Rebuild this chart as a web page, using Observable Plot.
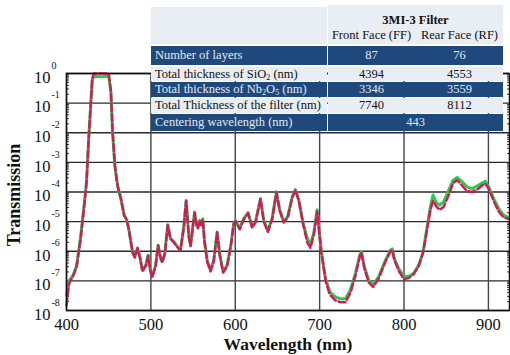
<!DOCTYPE html>
<html><head><meta charset="utf-8">
<script src="https://cdn.jsdelivr.net/npm/d3@7"></script>
<script src="https://cdn.jsdelivr.net/npm/@observablehq/plot@0.6"></script>
<style>
body{margin:0;background:#fff;}
#wrap{position:relative;width:510px;height:355px;font-family:"Liberation Serif","Times New Roman",serif;}
#wrap svg{position:absolute;left:0;top:0;}
.cell{position:absolute;box-sizing:border-box;font-size:12.5px;white-space:nowrap;}
.dark{background:#1f497d;color:#e4e8f0;}
.light{background:#e9edf4;color:#111;}
.txt{position:absolute;transform:translate(-50%,-50%);white-space:nowrap;}
sub{font-size:8px;vertical-align:-2px;line-height:0;}
</style></head><body><div id="wrap"></div>
<script>
// ---- data ----
const wavelength = [
  400, 403, 408, 412, 416.6, 420.5, 423.7, 426.5,
  428.5, 430.5, 432.5, 441, 450, 452.6, 454.6, 457.3,
  460.5, 464.5, 468.4, 471.6, 474.4, 478.3, 481, 484.2,
  487, 490, 494, 496.8, 499.2, 501.4, 505.5, 508.6,
  511.4, 513.4, 516.5, 520, 523.2, 527.2, 531.2, 535,
  539, 541.8, 545, 547, 550.2, 551.8, 554.2, 555.7,
  558, 560, 561.5, 563.5, 566.7, 570.6, 574.5, 578.5,
  581.6, 585.6, 590.4, 595, 598.2, 600.2, 605.3, 610,
  615.2, 620, 624, 629.9, 633.8, 638.6, 643.7, 648.8,
  652.7, 657.5, 662.2, 667.5, 671.3, 675.3, 680.5, 685.3,
  689.1, 693, 697, 699, 701.8, 707, 712, 718.5,
  723.6, 730.6, 736.5, 742.4, 747.5, 749.5, 753, 758.2,
  763.4, 770, 778, 784, 786, 788.6, 793.7, 799.7,
  805.6, 811.5, 817.4, 822.6, 827.3, 831.3, 834.4, 838.4,
  842.3, 847, 853, 858.2, 862.9, 868.8, 874.7, 880.6,
  886.5, 892.5, 896.4, 900.3, 906.2, 912.2, 918, 925
];
// Front face (green, solid)
const frontFace = [
  3.2e-8, 1e-7, 1.6e-7, 3.2e-7, 2.8e-6, 2.8e-5, 2.2e-4, 8.3e-3,
  6.8e-2, 0.6, 0.8, 0.78, 0.8, 0.24, 1.07e-2, 7.9e-4,
  1.7e-4, 6e-5, 1.66e-5, 1.12e-5, 4.5e-6, 9.5e-7, 6.5e-7, 1.3e-6,
  6.5e-7, 2.3e-7, 3.4e-7, 7.4e-7, 2.5e-7, 1.4e-7, 3.2e-7, 1.6e-6,
  6.3e-7, 4.4e-7, 8.5e-7, 7.9e-6, 2.75e-6, 2.1e-6, 1.45e-6, 1.1e-6,
  6.6e-6, 5.2e-5, 3.2e-6, 1.6e-6, 8.9e-6, 2.1e-5, 7.9e-6, 6.3e-6,
  1.1e-5, 7.9e-6, 1.26e-5, 2.3e-6, 5e-7, 2.3e-7, 5e-7, 4.5e-6,
  7.9e-7, 2.1e-7, 3.4e-7, 1.8e-6, 8.7e-6, 1.1e-5, 5.9e-6, 1.26e-5,
  2e-5, 6.8e-6, 1e-5, 6e-5, 1.1e-5, 4.9e-6, 1.3e-5, 1.02e-4,
  2.5e-5, 1e-5, 1.5e-5, 6.9e-5, 1.2e-4, 5.4e-5, 8.9e-6, 2.7e-6,
  1.8e-6, 4e-6, 2.5e-5, 6.8e-6, 1.1e-6, 1.2e-7, 4.3e-8, 2.9e-8,
  2.5e-8, 2.5e-8, 5e-8, 1.8e-7, 7.4e-7, 9.5e-7, 3e-7, 1.05e-7,
  7.2e-8, 1.4e-7, 5e-7, 1.1e-6, 1.2e-6, 5.6e-7, 2.6e-7, 1.45e-7,
  1.4e-7, 1.8e-7, 3.4e-7, 9.5e-7, 6.6e-6, 3.2e-5, 7.9e-5, 4.3e-5,
  3.6e-5, 4.7e-5, 1.15e-4, 2.5e-4, 3.1e-4, 2.2e-4, 1.5e-4, 1.3e-4,
  1.6e-4, 2e-4, 2.3e-4, 1.5e-4, 6e-5, 2.75e-5, 1.66e-5, 1.3e-5
];
// Rear face (red, dashed)
const rearFace = [
  1.5e-8, 8e-8, 1.5e-7, 3e-7, 2.5e-6, 2.5e-5, 2e-4, 8e-3,
  7e-2, 0.7, 1.0, 1.0, 1.0, 0.26, 1.1e-2, 7.9e-4,
  1.6e-4, 5.8e-5, 1.6e-5, 1.1e-5, 4.3e-6, 9e-7, 6.2e-7, 1.25e-6,
  6.2e-7, 2.1e-7, 3.2e-7, 7e-7, 2.3e-7, 1.3e-7, 3e-7, 1.55e-6,
  6e-7, 4.2e-7, 8e-7, 7.6e-6, 2.6e-6, 2e-6, 1.4e-6, 1.05e-6,
  6.3e-6, 5e-5, 3e-6, 1.5e-6, 8.5e-6, 2e-5, 7.5e-6, 6e-6,
  1.05e-5, 7.5e-6, 1.2e-5, 2.1e-6, 4.6e-7, 2.1e-7, 4.6e-7, 4.3e-6,
  7.4e-7, 1.9e-7, 3.1e-7, 1.7e-6, 8.3e-6, 1.05e-5, 5.5e-6, 1.2e-5,
  1.9e-5, 6.3e-6, 9.5e-6, 5.7e-5, 1e-5, 4.5e-6, 1.2e-5, 9.7e-5,
  2.3e-5, 9.3e-6, 1.4e-5, 6.5e-5, 1.15e-4, 5e-5, 8e-6, 2e-6,
  1.3e-6, 3.5e-6, 2.2e-5, 6.3e-6, 1e-6, 1e-7, 3.5e-8, 2.2e-8,
  1.95e-8, 1.9e-8, 4e-8, 1.5e-7, 6.5e-7, 9e-7, 2.6e-7, 9e-8,
  6.3e-8, 1.2e-7, 4.5e-7, 1e-6, 1.1e-6, 5e-7, 2.2e-7, 1.15e-7,
  1.25e-7, 1.7e-7, 3.2e-7, 9e-7, 5.5e-6, 2.5e-5, 5e-5, 3.2e-5,
  2.5e-5, 3.2e-5, 7.9e-5, 2e-4, 2.5e-4, 1.66e-4, 1.07e-4, 1e-4,
  1.2e-4, 1.66e-4, 1.9e-4, 1.3e-4, 5e-5, 2.2e-5, 1.4e-5, 1.2e-5
];
const xTicks = [400, 500, 600, 700, 800, 900];
const yExponents = [0, -1, -2, -3, -4, -5, -6, -7, -8];
const xLabel = "Wavelength (nm)";
const yLabel = "Transmission";

// table content
const tableTitle = "3MI-3 Filter";
const columnLabels = ["Front Face (FF)", "Rear Face (RF)"];
const rowLabels = [
  "Number of layers",
  "Total thickness of SiO<sub>2</sub> (nm)",
  "Total thickness of Nb<sub>2</sub>O<sub>5</sub> (nm)",
  "Total Thickness of the filter (nm)",
  "Centering wavelength (nm)"
];
const ffValues = [87, 4394, 3346, 7740];
const rfValues = [76, 4553, 3559, 8112];
const centeringWavelength = 443;

// ---- chart ----
const serif = "Liberation Serif, Times New Roman, serif";
const yTicks = yExponents.map(e => Math.pow(10, e));
const minorTicks = yExponents.slice(1).flatMap(e => [2,3,4,5,6,7,8,9].map(m => m * Math.pow(10, e)));
const rows = wavelength.map((w, i) => ({w, ff: frontFace[i], rf: rearFace[i]}));

const chart = Plot.plot({
  width: 510, height: 355,
  marginLeft: 66, marginRight: 1, marginTop: 73, marginBottom: 45,
  style: {fontFamily: serif, background: "transparent", color: "#111"},
  x: {domain: [400, 925]},
  y: {type: "log", domain: [1e-8, 1]},
  marks: [
    Plot.gridY(yTicks, {stroke: "#2a2a2a", strokeOpacity: 1, strokeWidth: 1.3}),
    Plot.gridX(xTicks, {stroke: "#444", strokeOpacity: 1, strokeWidth: 1.4}),
    Plot.axisY({anchor: "left", ticks: minorTicks, tickSize: -3, tickFormat: () => "", label: null, stroke: "#333"}),
    Plot.axisY({anchor: "right", ticks: minorTicks, tickSize: -3, tickFormat: () => "", label: null, stroke: "#333"}),
    Plot.text(yTicks, {y: d => d, frameAnchor: "left", text: () => "10", textAnchor: "end",
      dx: -16, dy: 4, fontSize: 16.5, fontFamily: serif, fill: "#111"}),
    Plot.text(yTicks, {y: d => d, frameAnchor: "left", text: d => String(Math.round(Math.log10(d))), textAnchor: "start",
      dx: -15, dy: -8, fontSize: 10, fontFamily: serif, fill: "#111"}),
    Plot.axisX({ticks: xTicks, tickSize: 0, tickPadding: 8, fontSize: 16.5, fontFamily: serif, label: null}),
    Plot.line(rows, {x: "w", y: "ff", stroke: "#2ec84a", strokeWidth: 3}),
    Plot.line(rows, {x: "w", y: "rf", stroke: "#d21a5a", strokeWidth: 2.5, strokeDasharray: "7,3"}),
    Plot.frame({stroke: "#111", strokeWidth: 1.5}),
    Plot.text([xLabel], {text: d => d, frameAnchor: "bottom", textAnchor: "middle", dy: 39, fontSize: 17.5, fontWeight: "bold", fontFamily: serif}),
    Plot.text([yLabel], {text: d => d, frameAnchor: "left", textAnchor: "middle", rotate: -90, dx: -52, dy: 3, fontSize: 18, fontWeight: "bold", fontFamily: serif})
  ]
});
const wrap = document.getElementById("wrap");
wrap.appendChild(chart);

// ---- table overlay ----
const L = 151, LW = 176, R = 328, RW = 175;
const rowGeom = [[46, 18.5], [66.5, 14], [81.5, 15], [97.5, 15], [114, 16.5]];
function box(x, y, w, h, cls) {
  const d = document.createElement("div");
  d.className = "cell " + cls;
  Object.assign(d.style, {left: x + "px", top: y + "px", width: w + "px", height: h + "px"});
  wrap.appendChild(d);
  return d;
}
function txt(parent, html, cx, cy, extra) {
  const s = document.createElement("div");
  s.className = "txt";
  s.innerHTML = html;
  Object.assign(s.style, {left: cx + "px", top: cy + "px"}, extra || {});
  parent.appendChild(s);
}
box(L, 6.5, LW, 37, "light");
const hdr = box(R, 5, RW, 38.5, "light");
txt(hdr, tableTitle, RW / 2, 14.5, {fontWeight: "bold"});
txt(hdr, columnLabels[0], 43.5, 29.5);
txt(hdr, columnLabels[1], 131.5, 29.5);
rowLabels.forEach((lab, i) => {
  const [y, h] = rowGeom[i];
  const cls = i % 2 === 0 ? "dark" : "light";
  const lc = box(L, y, LW, h, cls);
  const l = document.createElement("div");
  l.innerHTML = lab;
  Object.assign(l.style, {position: "absolute", left: "4px", top: (h / 2) + "px", transform: "translateY(-50%)"});
  lc.appendChild(l);
  const rc = box(R, y, RW, h, cls);
  if (i < ffValues.length) {
    txt(rc, String(ffValues[i]), 43.5, h / 2);
    txt(rc, String(rfValues[i]), 131.5, h / 2);
  } else {
    txt(rc, String(centeringWavelength), RW / 2, h / 2);
  }
});
</script></body></html>
